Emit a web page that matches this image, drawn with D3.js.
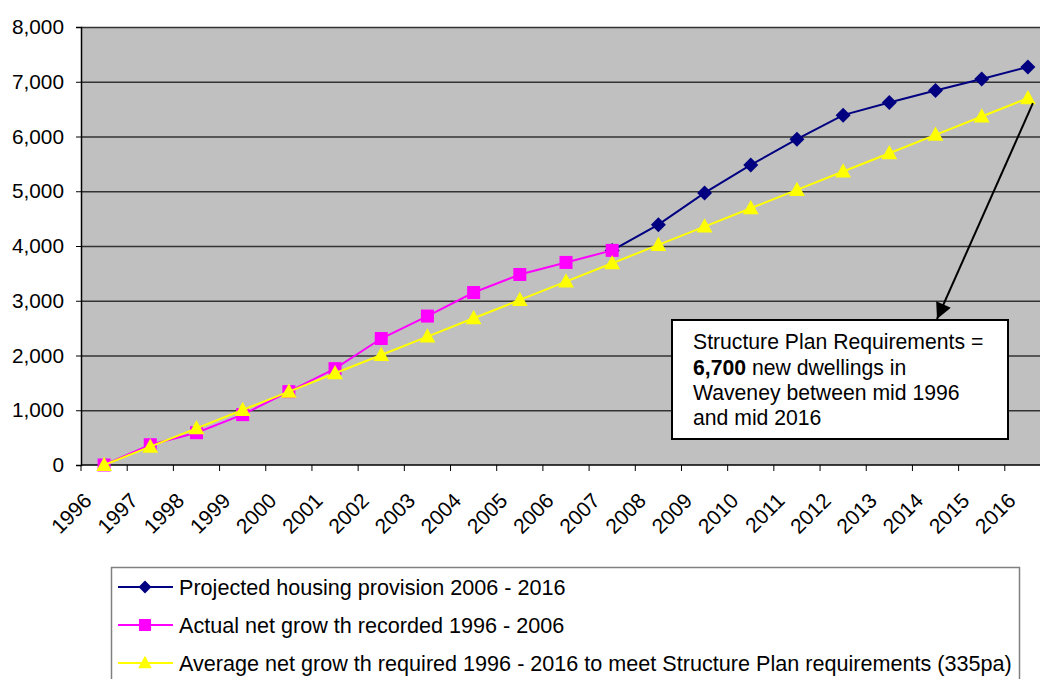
<!DOCTYPE html>
<html><head><meta charset="utf-8">
<script src="https://cdn.jsdelivr.net/npm/d3@7"></script>
<style>body{margin:0;background:#fff;}svg{display:block;font-family:"Liberation Sans",Arial,sans-serif;}</style>
</head><body><svg id="c" width="1040" height="679"></svg>
<script>
const years = ["1996","1997","1998","1999","2000","2001","2002","2003","2004","2005","2006","2007","2008","2009","2010","2011","2012","2013","2014","2015","2016"];
const actualYears = ["1996","1997","1998","1999","2000","2001","2002","2003","2004","2005","2006","2007"];
const actualValues = [0,370,590,920,1340,1760,2310,2720,3150,3480,3700,3920];
const projectedYears = ["2007","2008","2009","2010","2011","2012","2013","2014","2015","2016"];
const projectedValues = [3920,4390,4970,5480,5950,6390,6620,6840,7050,7270];
const averageValues = [0,335,670,1005,1340,1675,2010,2345,2680,3015,3350,3685,4020,4355,4690,5025,5360,5695,6030,6365,6700];
const yTicks = [0,1000,2000,3000,4000,5000,6000,7000,8000];
const legendLabels = ["Projected housing provision 2006 - 2016","Actual net grow th recorded 1996 - 2006","Average net grow th required 1996 - 2016 to meet Structure Plan requirements (335pa)"];

const svg = d3.select("#c");
const L = 81, T = 27, B = 465, R = 1051;
const x = d3.scaleBand().domain(years).range([L, R]);
const y = d3.scaleLinear().domain([0, 8000]).range([B, T]);
const cx = d => x(d) + x.bandwidth()/2;
const fmt = d3.format(",");

svg.append("rect").attr("x", L).attr("y", T).attr("width", R-L).attr("height", B-T).attr("fill", "#c0c0c0");
svg.append("g").selectAll("line").data(yTicks.filter(d=>d>0)).join("line")
  .attr("x1", L).attr("x2", R).attr("y1", d=>y(d)+0.5).attr("y2", d=>y(d)+0.5)
  .attr("stroke", "#333").attr("stroke-width", 1.3);

const ya = svg.append("g").attr("transform", `translate(${L},0)`)
  .call(d3.axisLeft(y).tickValues(yTicks).tickFormat(fmt).tickSize(5).tickPadding(12));
ya.select(".domain").attr("stroke", "#000").attr("stroke-width", 1.5);
ya.selectAll(".tick line").attr("stroke", "#000");
ya.selectAll("text").attr("font-size", 20.8).attr("fill", "#000").attr("font-family", "Liberation Sans, Arial, sans-serif");

const xa = svg.append("g").attr("transform", `translate(0,${B})`);
xa.append("line").attr("x1", L).attr("x2", R).attr("y1", 0).attr("y2", 0).attr("stroke", "#000").attr("stroke-width", 1.5);
xa.selectAll("line.tk").data(years).join("line").attr("class","tk")
  .attr("x1", d=>x(d)).attr("x2", d=>x(d)).attr("y1", 0).attr("y2", 6).attr("stroke", "#000");
xa.selectAll("text").data(years).join("text")
  .attr("transform", d=>`translate(${cx(d)-11},37) rotate(-45)`)
  .attr("text-anchor", "end").attr("font-size", 21).attr("fill", "#000").text(d=>d);

const line = d3.line().x(d=>cx(d[0])).y(d=>y(d[1]));
const avg = years.map((yr,i)=>[yr, averageValues[i]]);
const act = actualYears.map((yr,i)=>[yr, actualValues[i]]);
const proj = projectedYears.map((yr,i)=>[yr, projectedValues[i]]);

const navy = "#000080", mag = "#ff00ff", yel = "#ffff00";
const diamond = s => `M0,${-s}L${s},0L0,${s}L${-s},0Z`;
const square = s => `M${-s},${-s}H${s}V${s}H${-s}Z`;
const tri = s => `M0,${-s*1.1}L${s*1.05},${s*0.8}L${-s*1.05},${s*0.8}Z`;

function series(data, color, shape){
  svg.append("path").datum(data).attr("d", line).attr("fill","none").attr("stroke", color).attr("stroke-width", 2);
  svg.append("g").selectAll("path").data(data).join("path")
    .attr("transform", d=>`translate(${cx(d[0])},${y(d[1])})`).attr("d", shape).attr("fill", color);
}
series(proj, navy, diamond(7.5));
series(act, mag, square(6.5));
series(avg, yel, tri(7.5));

const bx = 672, by = 320, bw = 336, bh = 119;
svg.append("defs").append("marker").attr("id","ah").attr("viewBox","0 0 10 10").attr("refX",10).attr("refY",5)
  .attr("markerWidth",9).attr("markerHeight",8).attr("markerUnits","strokeWidth").attr("orient","auto")
  .append("path").attr("d","M0,0L10,5L0,10Z").attr("fill","#000");
const last = avg[avg.length-1];
svg.append("line").attr("x1", cx(last[0])+5).attr("y1", y(last[1])+5).attr("x2", 937).attr("y2", by-1)
  .attr("stroke","#000").attr("stroke-width",2).attr("marker-end","url(#ah)");
svg.append("rect").attr("x",bx).attr("y",by).attr("width",bw).attr("height",bh).attr("fill","#fff").attr("stroke","#000").attr("stroke-width",2);
const at = svg.append("text").attr("font-size",21.2).attr("fill","#000");
at.append("tspan").attr("x",693).attr("y",349).text("Structure Plan Requirements =");
const l2 = at.append("tspan").attr("x",693).attr("y",374.5);
l2.append("tspan").attr("font-weight","bold").text("6,700");
l2.append("tspan").text(" new dwellings in");
at.append("tspan").attr("x",693).attr("y",400).text("Waveney between mid 1996");
at.append("tspan").attr("x",693).attr("y",424.5).text("and mid 2016");

svg.append("rect").attr("x",111.5).attr("y",567.5).attr("width",908).attr("height",130).attr("fill","#fff").attr("stroke","#808080").attr("stroke-width",1.5);
const lg = [[navy, diamond(6.5)],[mag, square(6)],[yel, tri(6.5)]];
lg.forEach((d,i)=>{
  const yy = 587 + i*38;
  svg.append("line").attr("x1",118).attr("x2",173).attr("y1",yy).attr("y2",yy).attr("stroke",d[0]).attr("stroke-width",2);
  svg.append("path").attr("transform",`translate(145,${yy})`).attr("d",d[1]).attr("fill",d[0]);
  svg.append("text").attr("x",179).attr("y",yy+7.5).attr("font-size",21.6).attr("fill","#000").text(legendLabels[i]);
});
</script></body></html>
